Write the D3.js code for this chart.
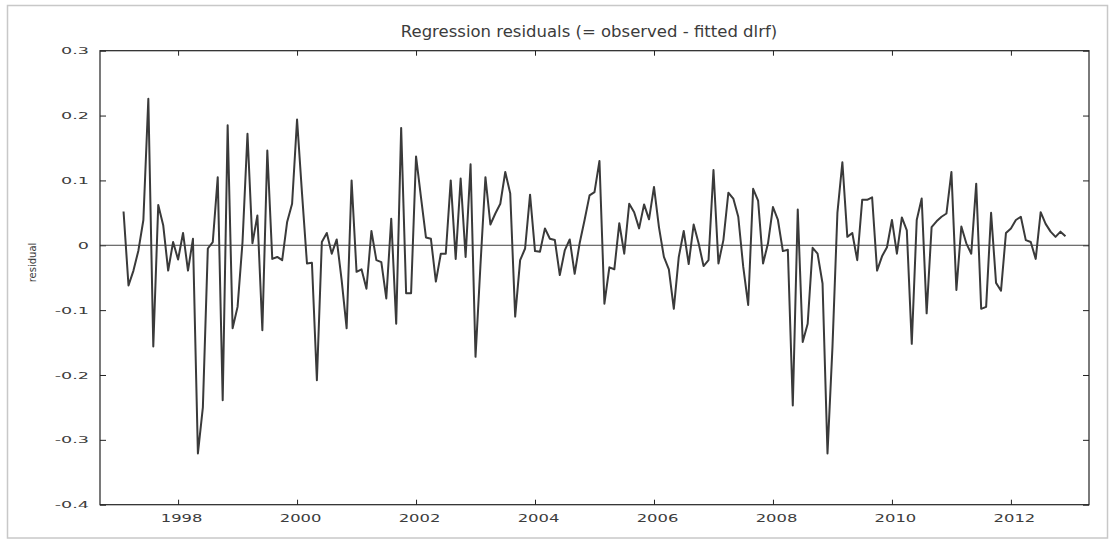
<!DOCTYPE html>
<html>
<head>
<meta charset="utf-8">
<script src="https://cdn.jsdelivr.net/npm/d3@7"></script>
<style>
  body { margin: 0; background: #fff; }
  text { font-family: "DejaVu Sans", Verdana, sans-serif; fill: #3c3c3c; }
</style>
</head>
<body>
<div id="chart"></div>
<script>
// monthly residuals, first obs 1997:02, last obs 2012:12
var startYear = 1997, startMonth = 2;
var residuals = [
  0.052, -0.062, -0.039, -0.008, 0.039, 0.226, -0.156, 0.062, 0.031, -0.039, 0.005,
  -0.022, 0.019, -0.039, 0.010, -0.321, -0.250, -0.005, 0.005, 0.105, -0.239, 0.185, -0.128, -0.095,
  0.005, 0.172, 0.003, 0.046, -0.131, 0.146, -0.021, -0.018, -0.023, 0.036, 0.064, 0.194,
  0.080, -0.028, -0.027, -0.208, 0.005, 0.019, -0.013, 0.009, -0.054, -0.128, 0.100, -0.041,
  -0.037, -0.067, 0.022, -0.023, -0.026, -0.082, 0.041, -0.121, 0.181, -0.074, -0.074, 0.137,
  0.074, 0.012, 0.010, -0.056, -0.013, -0.013, 0.100, -0.021, 0.103, -0.018, 0.125, -0.172,
  -0.030, 0.105, 0.032, 0.049, 0.064, 0.113, 0.080, -0.110, -0.023, -0.005, 0.078, -0.009,
  -0.010, 0.026, 0.010, 0.008, -0.046, -0.008, 0.009, -0.044, 0.003, 0.039, 0.077, 0.082,
  0.130, -0.090, -0.034, -0.037, 0.034, -0.013, 0.064, 0.051, 0.026, 0.063, 0.040, 0.090,
  0.028, -0.018, -0.037, -0.098, -0.018, 0.022, -0.029, 0.032, 0.003, -0.032, -0.023, 0.116,
  -0.028, 0.008, 0.081, 0.072, 0.044, -0.033, -0.092, 0.087, 0.069, -0.028, 0.003, 0.059,
  0.039, -0.009, -0.007, -0.247, 0.055, -0.149, -0.121, -0.004, -0.013, -0.059, -0.321, -0.157,
  0.050, 0.128, 0.013, 0.019, -0.023, 0.070, 0.070, 0.074, -0.039, -0.017, -0.003, 0.039,
  -0.013, 0.043, 0.023, -0.152, 0.039, 0.072, -0.105, 0.028, 0.037, 0.044, 0.049, 0.113,
  -0.069, 0.029, 0.003, -0.013, 0.095, -0.098, -0.095, 0.050, -0.058, -0.070, 0.019, 0.026,
  0.039, 0.044, 0.008, 0.005, -0.021, 0.051, 0.033, 0.021, 0.013, 0.021, 0.014
];
var yTicks = [-0.4, -0.3, -0.2, -0.1, 0, 0.1, 0.2, 0.3];
var xTicks = [1998, 2000, 2002, 2004, 2006, 2008, 2010, 2012];
var titleText = "Regression residuals (= observed - fitted dlrf)";
var yLabel = "residual";

var W = 1115, H = 540;
var plotL = 100, plotR = 1089, plotT = 50.7, plotB = 504.7;

var data = residuals.map(function (v, i) {
  return { t: startYear + (startMonth - 1 + i) / 12, v: v };
});

var svg = d3.select("#chart").append("svg")
    .attr("width", W)
    .attr("height", H);

// outer grey border
svg.append("rect")
    .attr("x", 7.5).attr("y", 5.5)
    .attr("width", 1100).attr("height", 532.5)
    .attr("fill", "#fff")
    .attr("stroke", "#c8c8c8")
    .attr("stroke-width", 1.5);

var t0 = data[0].t, t1 = data[data.length - 1].t, pad = (t1 - t0) * 0.025;
var x = d3.scaleLinear().domain([t0 - pad, t1 + pad]).range([plotL, plotR]);
var y = d3.scaleLinear().domain([-0.4, 0.3]).range([plotB, plotT]);

function stretch(sel, k) {
  sel.each(function () {
    var L = this.getComputedTextLength();
    d3.select(this).attr("textLength", L * k).attr("lengthAdjust", "spacingAndGlyphs");
  });
}

var fmtY = function (d) { return Math.abs(d) < 1e-9 ? "0" : d.toFixed(1); };

// y axis (left, labels) and mirrored ticks on right
var gy = svg.append("g")
    .attr("transform", "translate(" + plotL + ",0)")
    .call(d3.axisLeft(y).tickValues(yTicks).tickFormat(fmtY).tickSize(-6).tickPadding(11));
gy.selectAll("text").attr("font-size", 9.5).attr("font-family", "DejaVu Sans").call(stretch, 1.85);

svg.append("g")
    .attr("transform", "translate(" + plotR + ",0)")
    .call(d3.axisRight(y).tickValues(yTicks).tickFormat("").tickSize(-6));

// x axis (bottom, labels) and mirrored ticks on top
var gx = svg.append("g")
    .attr("transform", "translate(0," + plotB + ")")
    .call(d3.axisBottom(x).tickValues(xTicks).tickFormat(d3.format("d")).tickSize(-5).tickPadding(10.3));
gx.selectAll("text").attr("font-size", 10.5).attr("font-family", "DejaVu Sans")
    .attr("dx", 3).call(stretch, 1.56);

svg.append("g")
    .attr("transform", "translate(0," + plotT + ")")
    .call(d3.axisTop(x).tickValues(xTicks).tickFormat("").tickSize(-5));

svg.selectAll(".domain").remove();
svg.selectAll(".tick line").attr("stroke", "#222");

// zero line
svg.append("line")
    .attr("x1", plotL).attr("x2", plotR)
    .attr("y1", y(0)).attr("y2", y(0))
    .attr("stroke", "#444")
    .attr("stroke-width", 1);

// residual series
var line = d3.line()
    .x(function (d) { return x(d.t); })
    .y(function (d) { return y(d.v); });

svg.append("path")
    .datum(data)
    .attr("d", line)
    .attr("fill", "none")
    .attr("stroke", "#3a3a3a")
    .attr("stroke-width", 2)
    .attr("stroke-linejoin", "round");

// frame
svg.append("rect")
    .attr("x", plotL).attr("y", plotT)
    .attr("width", plotR - plotL).attr("height", plotB - plotT)
    .attr("fill", "none")
    .attr("stroke", "#222")
    .attr("stroke-width", 1.2);

// title
svg.append("text")
    .attr("x", 589).attr("y", 37)
    .attr("text-anchor", "middle")
    .attr("font-size", 15)
    .text(titleText)
    .call(stretch, 1.1);

// y label
svg.append("text")
    .attr("transform", "translate(32.3,262.5) rotate(-90)")
    .attr("text-anchor", "middle")
    .attr("dy", "0.35em")
    .attr("font-size", 10)
    .text(yLabel);
</script>
</body>
</html>
